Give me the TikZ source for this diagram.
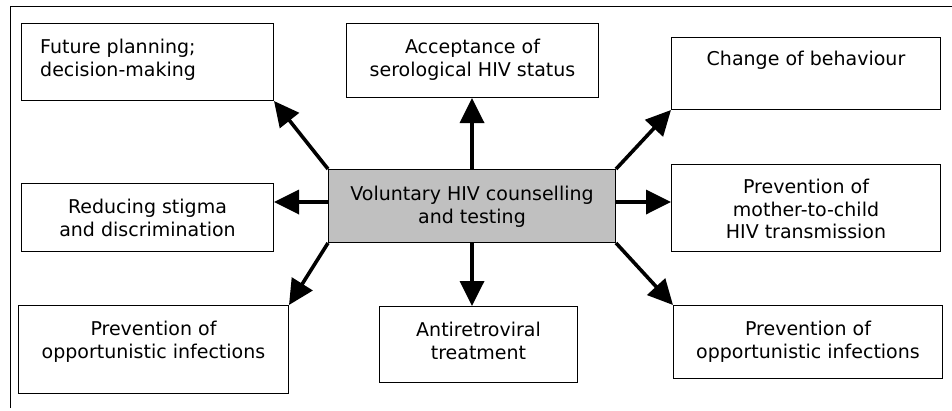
\documentclass[tikz,border=0pt]{standalone}
\usepackage{fontspec}
\setmainfont{DejaVu Sans}
\usetikzlibrary{arrows.meta}

\tikzset{
    hivbox/.style={draw, line width=1pt, anchor=north west, inner sep=0pt},
    hivtext/.style={anchor=north, align=center, inner sep=0pt, font=\fontsize{19}{22.5}\selectfont},
    hivarrow/.style={line width=3.6pt, -{Triangle[length=25pt,width=24pt]}}
}

\begin{document}
\begin{tikzpicture}[x=1pt,y=-1pt]
            \useasboundingbox (0,0) rectangle (952,410);
            \draw[line width=0.9pt] (10.5,408) -- (10.5,6.5) -- (952,6.5);
            \node[hivbox, minimum width=252pt, minimum height=77pt] (plan) at (21,23) {};
            \node[hivbox, minimum width=252pt, minimum height=74pt] (accept) at (346,23) {};
            \node[hivbox, minimum width=269pt, minimum height=72pt] (change) at (671,37) {};
            \node[hivbox, minimum width=252pt, minimum height=68pt] (stigma) at (21,183) {};
            \node[hivbox, fill={rgb,255:red,192;green,192;blue,192}, minimum width=287pt, minimum height=73pt] (vct) at (328,169) {};
            \node[hivbox, minimum width=269pt, minimum height=87pt] (pmtct) at (671,164) {};
            \node[hivbox, minimum width=270pt, minimum height=88pt] (oileft) at (18,305) {};
            \node[hivbox, minimum width=198pt, minimum height=76pt] (art) at (379,306) {};
            \node[hivbox, minimum width=269pt, minimum height=73pt] (oiright) at (673,305) {};
            \node[hivtext, anchor=north west, align=left, xshift=19pt, yshift=-16pt] (plantxt) at (plan.north west) {Future planning;\\decision-making};
            \node[hivtext, yshift=-16pt] (accepttxt) at (accept.north) {Acceptance of\\serological HIV status};
            \node[hivtext, yshift=-14pt] (changetxt) at (change.north) {Change of behaviour};
            \node[hivtext, yshift=-16pt] (stigmatxt) at (stigma.north) {Reducing stigma\\and discrimination};
            \node[hivtext, yshift=-17pt] (vcttxt) at (vct.north) {Voluntary HIV counselling\\and testing};
            \node[hivtext, yshift=-15pt] (pmtcttxt) at (pmtct.north) {Prevention of\\mother-to-child\\HIV transmission};
            \node[hivtext, yshift=-16pt] (oilefttxt) at (oileft.north) {Prevention of\\opportunistic infections};
            \node[hivtext, yshift=-16pt] (arttxt) at (art.north) {Antiretroviral\\treatment};
            \node[hivtext, yshift=-16pt] (oirighttxt) at (oiright.north) {Prevention of\\opportunistic infections};
            \draw[hivarrow] (vct.north west) -- (plan.south east);
            \draw[hivarrow] (vct.north) -- (vct.north |- accept.south);
            \draw[hivarrow] (vct.north east) -- (change.south west);
            \draw[hivarrow] ([yshift=4pt]vct.west) -- ([yshift=4pt]vct.west -| stigma.east);
            \draw[hivarrow] ([yshift=4pt]vct.east) -- ([yshift=4pt]vct.east -| pmtct.west);
            \draw[hivarrow] (vct.south west) -- (oileft.north east);
            \draw[hivarrow] (vct.south) -- (vct.south |- art.north);
            \draw[hivarrow] (vct.south east) -- (oiright.north west);
        \end{tikzpicture}
\end{document}
